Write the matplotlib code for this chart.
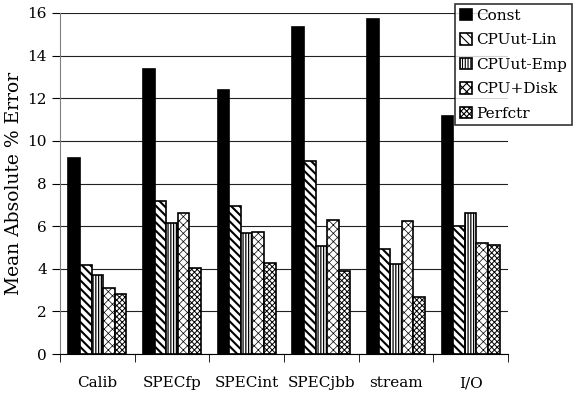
import numpy as np
import matplotlib.pyplot as plt

plt.rcParams['font.family'] = ['DejaVu Serif']
plt.rcParams['hatch.linewidth'] = 0.8

categories = ['Calib', 'SPECfp', 'SPECint', 'SPECjbb', 'stream', 'I/O']
series = ['Const', 'CPUut-Lin', 'CPUut-Emp', 'CPU+Disk', 'Perfctr']
const = [9.2, 13.37, 12.38, 15.35, 15.7, 11.17]
cpu_lin = [4.18, 7.2, 6.95, 9.05, 4.93, 6.01]
cpu_emp = [3.71, 6.16, 5.67, 5.07, 4.22, 6.6]
cpu_disk = [3.11, 6.6, 5.73, 6.29, 6.26, 5.2]
perfctr = [2.8, 4.05, 4.26, 3.9, 2.69, 5.12]

values = [const, cpu_lin, cpu_emp, cpu_disk, perfctr]
faces = ['black', 'white', 'white', 'white', 'white']
hatches = [None, '\\\\\\\\', '||||||', 'xxxx', 'xxxxxx']
hatch_lw = [1.0, 1.5, 0.9, 0.5, 0.7]

fig = plt.figure(figsize=(5.74, 3.96), dpi=100)
ax = fig.add_axes([60/574, 42/396, 448/574, 341/396])

x = np.arange(len(categories))
w = 0.155
for i, v in enumerate(values):
    bars = ax.bar(x - 2*w + i*w, v, w, color=faces[i], edgecolor='black',
                  hatch=hatches[i], linewidth=1.2, label=series[i], zorder=3)
    for p in bars:
        try:
            p.set_hatch_linewidth(hatch_lw[i])
        except AttributeError:
            pass

ax.set_xlim(-0.5, len(categories) - 0.5)
ax.set_ylim(0, 16)
ax.set_yticks(range(0, 17, 2))
ax.yaxis.grid(True, color='#222222', linewidth=0.8, zorder=0)
ax.set_xticks(x)
ax.set_xticklabels(categories)
ax.set_xticks(np.arange(-0.5, len(categories)), minor=True)
ax.tick_params(axis='x', which='major', length=0, pad=16, labelsize=11)
ax.tick_params(axis='x', which='minor', length=6, color='black')
ax.tick_params(axis='y', length=6, labelsize=11)
for s in ['top', 'right']:
    ax.spines[s].set_visible(False)
ax.spines['left'].set_color('gray')
ax.spines['bottom'].set_color('black')
ax.set_ylabel('Mean Absolute % Error', fontsize=13.5, labelpad=3)

leg = fig.legend(loc='upper left', bbox_to_anchor=(455/574, 1 - 4/396),
                 fontsize=11, frameon=True, fancybox=False, edgecolor='black',
                 handlelength=0.8, handleheight=0.8, handletextpad=0.3,
                 labelspacing=0.68, borderpad=0.3, borderaxespad=0)
leg.get_frame().set_linewidth(1.2)

fig.savefig('out.png', dpi=100)
